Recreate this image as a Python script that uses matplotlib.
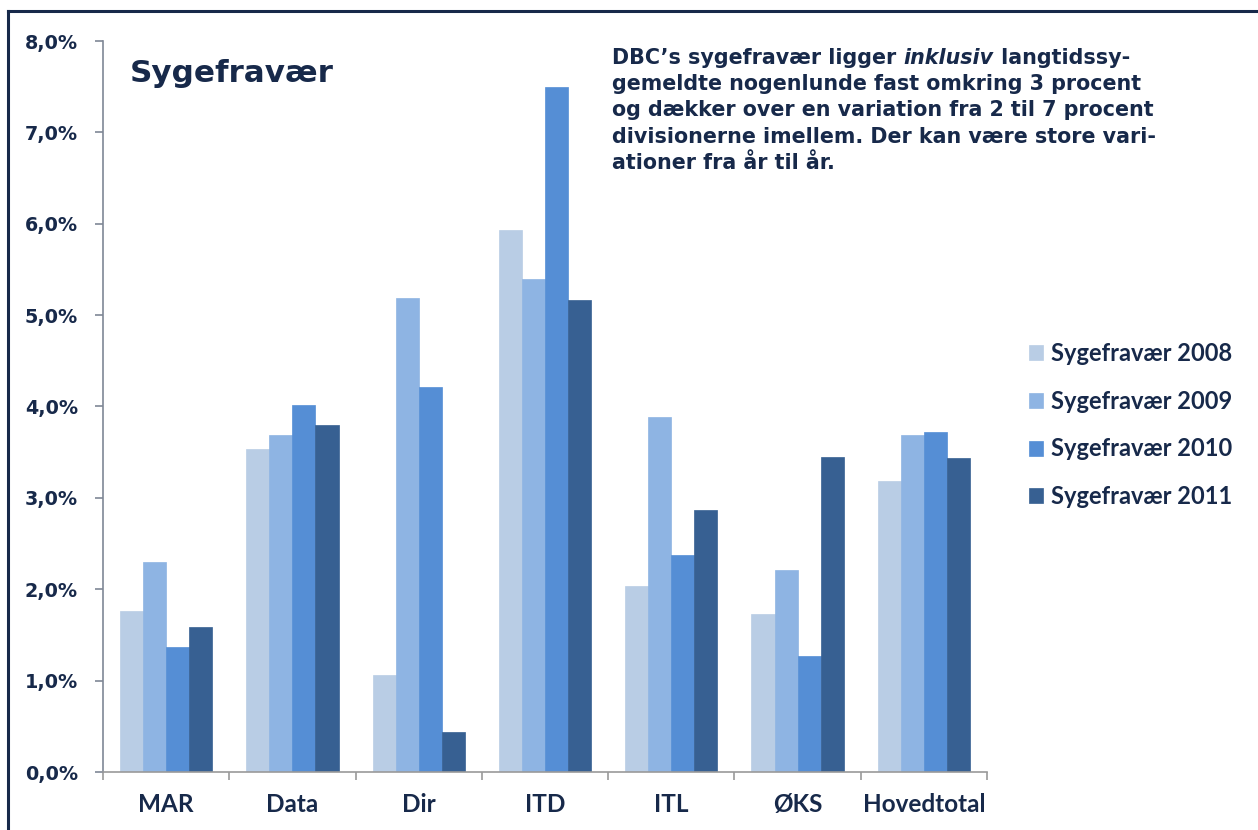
import numpy as np
import matplotlib
matplotlib.use("Agg")
import matplotlib.pyplot as plt
from matplotlib.lines import Line2D
from matplotlib.ticker import FuncFormatter, FixedLocator

# sygefravær pr. division, i procent
divisioner = ["MAR", "Data", "Dir", "ITD", "ITL", "ØKS", "Hovedtotal"]
aar = ["Sygefravær 2008", "Sygefravær 2009", "Sygefravær 2010", "Sygefravær 2011"]
fravaer_2008 = [1.76, 3.54, 1.06, 5.93, 2.04, 1.73, 3.19]
fravaer_2009 = [2.30, 3.69, 5.19, 5.39, 3.88, 2.21, 3.69]
fravaer_2010 = [1.37, 4.02, 4.21, 7.50, 2.37, 1.27, 3.72]
fravaer_2011 = [1.59, 3.80, 0.44, 5.17, 2.87, 3.45, 3.44]

farver = ["#B9CDE5", "#8EB4E3", "#558ED5", "#376092"]
tekst = "#17294A"
akse = "#7F8796"

fig = plt.figure(figsize=(12.58, 8.3), dpi=100)
ax = fig.add_axes([103 / 1258, 58 / 830, 884 / 1258, 731 / 830])

x = np.arange(len(divisioner))
bredde = 0.73 / 4
serier = [fravaer_2008, fravaer_2009, fravaer_2010, fravaer_2011]
for i, (vals, navn, farve) in enumerate(zip(serier, aar, farver)):
    ax.bar(x + (i - 1.5) * bredde, vals, width=bredde, color=farve,
           edgecolor=farve, linewidth=0.5, label=navn)

ax.set_xlim(-0.5, len(divisioner) - 0.5)
ax.set_ylim(0, 8)
ax.set_yticks(np.arange(0, 8.5, 1))
ax.yaxis.set_major_formatter(FuncFormatter(lambda v, p: f"{v:.1f}%".replace(".", ",")))

ax.set_xticks(x)
ax.set_xticklabels(divisioner)
ax.xaxis.set_minor_locator(FixedLocator(np.arange(-0.5, len(divisioner), 1)))

for s in ["top", "right"]:
    ax.spines[s].set_visible(False)
ax.spines["left"].set_color(akse)
ax.spines["bottom"].set_color("#9A9A9A")
ax.spines["left"].set_linewidth(1.2)
ax.spines["bottom"].set_linewidth(1.2)

ax.tick_params(axis="y", length=6, width=1.2, color=akse, pad=12,
               labelsize=13.8, labelcolor=tekst)
ax.tick_params(axis="x", which="major", length=0, pad=15, labelsize=17.5,
               labelcolor=tekst)
ax.tick_params(axis="x", which="minor", length=6, width=1.2, color="#9A9A9A")
for lab in ax.get_yticklabels():
    lab.set_fontweight("bold")
    lab.set_family("DejaVu Sans")
for lab in ax.get_xticklabels():
    lab.set_fontweight("bold")
    lab.set_family("Lato")

# titel inde i plotområdet
fig.text(130 / 1258, 1 - 73 / 830, "Sygefravær", fontsize=22.3, fontweight="bold",
         color=tekst, family="DejaVu Sans", va="center", ha="left")

# kommentar, første linje med kursiv
fs = 14.9
renderer = fig.canvas.get_renderer()
x0, y0 = 612 / 1258, 1 - 64 / 830
dele = [("DBC’s sygefravær ligger ", "normal"), ("inklusiv", "italic"),
        (" langtidssy-", "normal")]
xp = x0
for s, stil in dele:
    t = fig.text(xp, y0, s, fontsize=fs, fontweight="bold", style=stil,
                 color=tekst, family="DejaVu Sans", va="baseline", ha="left")
    bb = t.get_window_extent(renderer=renderer)
    xp = bb.x1 / fig.bbox.width
linjer = ["gemeldte nogenlunde fast omkring 3 procent",
          "og dækker over en variation fra 2 til 7 procent",
          "divisionerne imellem. Der kan være store vari-",
          "ationer fra år til år."]
for k, linje in enumerate(linjer):
    fig.text(x0, y0 - (k + 1) * 26.2 / 830, linje, fontsize=fs, fontweight="bold",
             color=tekst, family="DejaVu Sans", va="baseline", ha="left")

leg = fig.legend(loc="center left", bbox_to_anchor=(1017 / 1258, 1 - 425 / 830),
                 frameon=False, fontsize=17, labelspacing=1.05, handlelength=0.6,
                 handleheight=0.6, handletextpad=0.35, borderpad=0)
for t in leg.get_texts():
    t.set_color(tekst)
    t.set_fontweight("bold")
    t.set_family("Lato")

# mørk ramme øverst og til venstre
fig.add_artist(Line2D([8 / 1258, 8 / 1258], [0, 1 - 11 / 830], transform=fig.transFigure,
                      color="#17294A", linewidth=2.2))
fig.add_artist(Line2D([8 / 1258, 1], [1 - 11 / 830, 1 - 11 / 830], transform=fig.transFigure,
                      color="#17294A", linewidth=2.2))

fig.savefig("out.png", dpi=100)
